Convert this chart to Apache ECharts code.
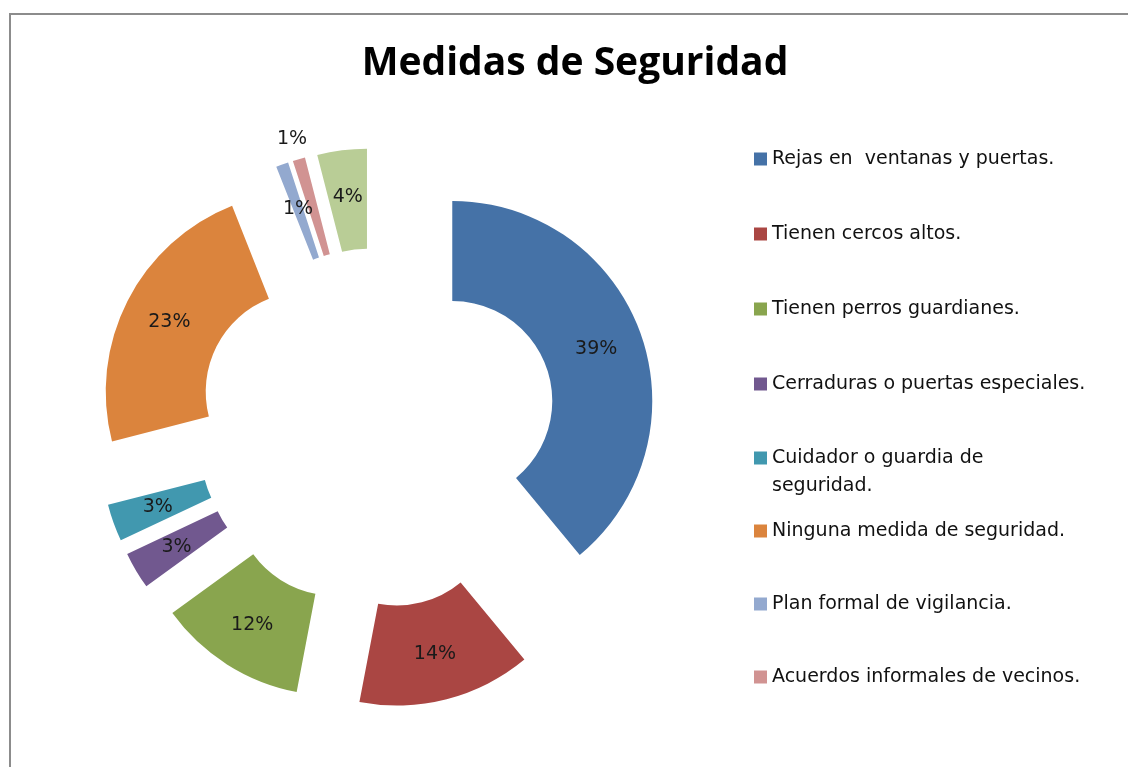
<!DOCTYPE html>
<html>
<head>
<meta charset="utf-8">
<script src="https://cdn.jsdelivr.net/npm/echarts@6/dist/echarts.min.js"></script>
<style>
  html, body { margin: 0; padding: 0; background: #fff; overflow: hidden; }
  #frame { position: absolute; left: 9px; top: 13px; width: 1300px; height: 900px; border: 2px solid #8c8c8c; }
  #main { position: absolute; left: 0; top: 0; width: 1128px; height: 767px; }
</style>
</head>
<body>
<div id="frame"></div>
<div id="main"></div>
<script>
// slices, clockwise from 12 o'clock
const names = [
  "Rejas en  ventanas y puertas.",
  "Tienen cercos altos.",
  "Tienen perros guardianes.",
  "Cerraduras o puertas especiales.",
  "Cuidador o guardia de seguridad.",
  "Ninguna medida de seguridad.",
  "Plan formal de vigilancia.",
  "Acuerdos informales de vecinos.",
  "Otros."
];
const values = [39, 14, 12, 3, 3, 23, 1, 1, 4];
const colors = ["#4572A7", "#AA4643", "#89A54E", "#71588F", "#4198AF", "#DB843D", "#93A9CF", "#D19392", "#B9CD96"];

const font = "DejaVu Sans";

const myChart = echarts.init(document.getElementById("main"));

const pieData = names.map(function (n, i) {
  const item = { name: n, value: values[i], selected: true, itemStyle: { color: colors[i] } };
  if (i === 7) {
    // small slice: label sits above the ring, like the original
    item.label = { position: "outside" };
    item.labelLine = { show: false, length: 21, length2: -19 };
  }
  return item;
});

const legendBase = {
  orient: "vertical",
  left: 749,
  icon: "rect",
  itemWidth: 13,
  itemHeight: 13,
  selectedMode: false,
  textStyle: { fontFamily: font, fontSize: 19, color: "#111", lineHeight: 24 }
};

const option = {
  animation: false,
  title: {
    text: "Medidas de Seguridad",
    left: 570,
    top: 39,
    textAlign: "center",
    textStyle: { fontFamily: "Open Sans", fontSize: 39, fontWeight: "bold", color: "#000" }
  },
  legend: [
    Object.assign({}, legendBase, { top: 142, itemGap: 51, data: names.slice(0, 4) }),
    Object.assign({}, legendBase, {
      top: 411,
      data: [names[4]],
      // wrap in two lines; leading blank line keeps the swatch on the first line
      formatter: function (name) { return "\n" + name.replace(" de seguridad", " de\nseguridad"); },
      textStyle: { fontFamily: font, fontSize: 19, color: "#111", lineHeight: 28 }
    }),
    Object.assign({}, legendBase, { top: 514, itemGap: 49, data: names.slice(5, 8) })
  ],
  series: [
    {
      type: "pie",
      center: [377, 428],
      radius: [100, 200],
      startAngle: 90,
      clockwise: true,
      selectedMode: "multiple",
      selectedOffset: 80,
      avoidLabelOverlap: false,
      emphasis: { disabled: true },
      label: {
        show: true,
        position: "inside",
        formatter: "{c}%",
        fontFamily: font,
        fontSize: 19,
        color: "#1a1a1a"
      },
      labelLine: { show: false },
      data: pieData
    }
  ]
};

myChart.setOption(option);
</script>
</body>
</html>
